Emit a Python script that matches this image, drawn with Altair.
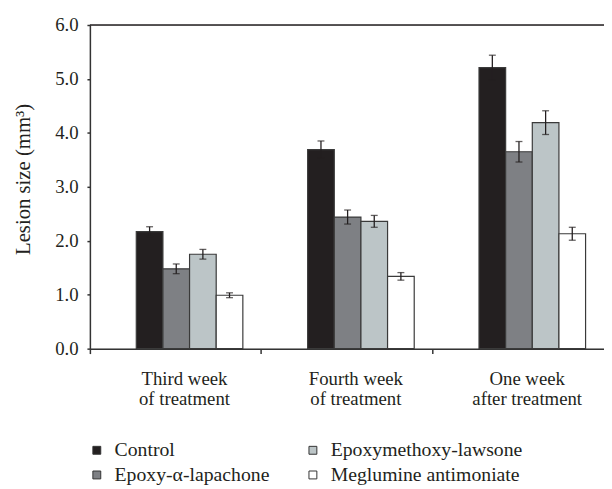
import altair as alt
import pandas as pd

groups = ["Third week\nof treatment", "Fourth week\nof treatment", "One week\nafter treatment"]
series = ["Control", "Epoxy-α-lapachone", "Epoxymethoxy-lawsone", "Meglumine antimoniate"]
colors = ["#231f20", "#7e8084", "#bcc5c7", "#ffffff"]

control = [2.17, 3.69, 5.21]
lapachone = [1.48, 2.44, 3.65]
lawsone = [1.75, 2.36, 4.19]
meglumine = [0.99, 1.34, 2.13]

control_err = [0.09, 0.16, 0.23]
lapachone_err = [0.09, 0.13, 0.19]
lawsone_err = [0.09, 0.11, 0.22]
meglumine_err = [0.045, 0.07, 0.12]

values = [control, lapachone, lawsone, meglumine]
errors = [control_err, lapachone_err, lawsone_err, meglumine_err]

rows = []
for s, vals, errs in zip(series, values, errors):
    for g, v, e in zip(groups, vals, errs):
        rows.append({"group": g, "series": s, "value": v, "lo": v - e, "hi": v + e})
df = pd.DataFrame(rows)

FONT = "Liberation Serif"
AX = "#333333"

x_enc = alt.X(
    "group:N",
    sort=groups,
    scale=alt.Scale(paddingInner=0, paddingOuter=0),
    axis=alt.Axis(
        title=None,
        bandPosition=0,
        labelAngle=0,
        labelExpr="split(datum.label, '\\n')",
        labelFont=FONT,
        labelFontSize=19,
        labelColor="#231f20",
        labelLineHeight=21,
        labelBaseline="top",
        labelPadding=16,
        labelOffset=9,
        tickSize=5,
        tickColor=AX,
        tickWidth=1.5,
        domainColor=AX,
        domainWidth=1.5,
    ),
)
xoff = alt.XOffset("series:N", sort=series, scale=alt.Scale(range=[47, 155], paddingInner=0, paddingOuter=0))

y_scale = alt.Scale(domain=[0, 6], nice=False)

base = alt.Chart(df)

bars = base.mark_bar(stroke="#3a3a3a", strokeWidth=1.2).encode(
    x=x_enc,
    xOffset=xoff,
    y=alt.Y(
        "value:Q",
        scale=y_scale,
        axis=alt.Axis(
            title="Lesion size (mm³)",
            values=[0, 1, 2, 3, 4, 5, 6],
            format=".1f",
            grid=False,
            labelFont=FONT,
            labelFontSize=19,
            labelColor="#231f20",
            labelPadding=9,
            tickSize=3,
            tickColor=AX,
            tickWidth=1.5,
            domainColor=AX,
            domainWidth=1.5,
            titleFont=FONT,
            titleFontSize=21,
            titleFontWeight="normal",
            titleColor="#231f20",
            titleAngle=-90,
            titleAlign="center",
            titleBaseline="middle",
            titleX=-67,
            titleY=156,
        ),
    ),
    fill=alt.Fill(
        "series:N",
        sort=series,
        scale=alt.Scale(domain=series, range=colors),
        legend=alt.Legend(
            title=None,
            orient="none",
            legendX=-3,
            legendY=421,
            direction="horizontal",
            columns=2,
            values=["Control", "Epoxymethoxy-lawsone", "Epoxy-α-lapachone", "Meglumine antimoniate"],
            symbolType="square",
            symbolSize=64,
            symbolStrokeColor="#333333",
            symbolStrokeWidth=1,
            symbolOpacity=1,
            labelFont=FONT,
            labelFontSize=20,
            labelColor="#231f20",
            labelOffset=8,
            labelLimit=400,
            columnPadding=33,
            rowPadding=5,
        ),
    ),
)

err_rule = base.mark_rule(color="#231f20", strokeWidth=1.3).encode(
    x=alt.X("group:N", sort=groups),
    xOffset=xoff,
    y=alt.Y("lo:Q", scale=y_scale),
    y2="hi:Q",
)
cap_lo = base.mark_tick(color="#231f20", size=7, thickness=1.3).encode(
    x=alt.X("group:N", sort=groups),
    xOffset=xoff,
    y=alt.Y("lo:Q", scale=y_scale),
)
cap_hi = base.mark_tick(color="#231f20", size=7, thickness=1.3).encode(
    x=alt.X("group:N", sort=groups),
    xOffset=xoff,
    y=alt.Y("hi:Q", scale=y_scale),
)

top_line = alt.Chart(pd.DataFrame({"v": [6.0]})).mark_rule(color="#231f20", strokeWidth=1.5).encode(
    y=alt.Y("v:Q", scale=y_scale)
)

chart = (
    alt.layer(bars, err_rule, cap_lo, cap_hi, top_line)
    .properties(
        width=521,
        height=328,
        autosize=alt.AutoSizeParams(type="none"),
        padding={"left": 83, "top": 14, "right": 0, "bottom": 139},
    )
    .configure_view(stroke=None)
    .configure_legend(labelFont=FONT, labelFontSize=20)
    .configure(background="white", font=FONT)
)

chart.save("out.html", embed_options={"renderer": "svg", "actions": False})
